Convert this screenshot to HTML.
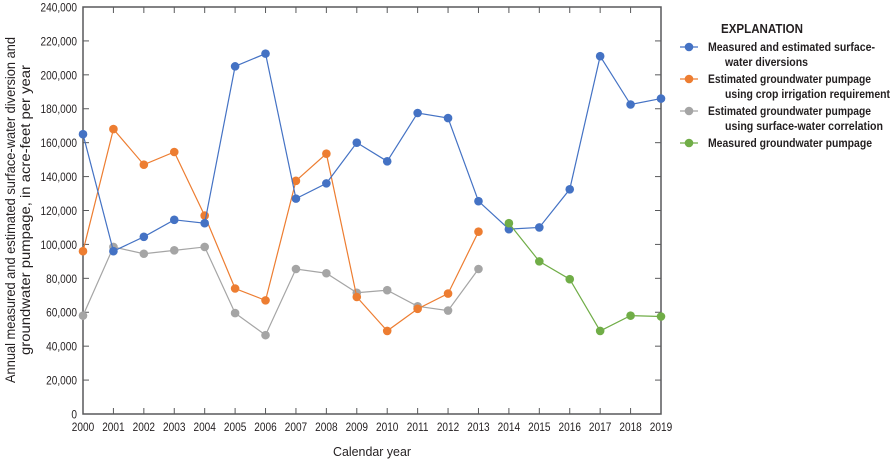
<!DOCTYPE html>
<html><head><meta charset="utf-8"><style>
body{margin:0;background:#fff;width:896px;height:460px;overflow:hidden}
svg text{font-family:"Liberation Sans",sans-serif;fill:#231f20}
</style></head><body>
<svg id="chart" width="896" height="460" xmlns="http://www.w3.org/2000/svg">
<g id="axes"></g><g id="series"></g>
<g font-weight="bold" font-size="11.5">
<text x="762" y="33" text-anchor="middle" font-size="13" textLength="82" lengthAdjust="spacingAndGlyphs">EXPLANATION</text>
<g><line x1="680" y1="47" x2="698" y2="47" stroke="#4472c4" stroke-width="1.2"/><circle cx="689" cy="47" r="4.3" fill="#4472c4"/>
<text x="708" y="51" textLength="167" lengthAdjust="spacingAndGlyphs">Measured and estimated surface-</text><text x="725" y="66" textLength="83" lengthAdjust="spacingAndGlyphs">water diversions</text></g>
<g><line x1="680" y1="79" x2="698" y2="79" stroke="#ed7d31" stroke-width="1.2"/><circle cx="689" cy="79" r="4.3" fill="#ed7d31"/>
<text x="708" y="83" textLength="163" lengthAdjust="spacingAndGlyphs">Estimated groundwater pumpage</text><text x="725" y="98" textLength="165" lengthAdjust="spacingAndGlyphs">using crop irrigation requirement</text></g>
<g><line x1="680" y1="111" x2="698" y2="111" stroke="#a5a5a5" stroke-width="1.2"/><circle cx="689" cy="111" r="4.3" fill="#a5a5a5"/>
<text x="708" y="115" textLength="163" lengthAdjust="spacingAndGlyphs">Estimated groundwater pumpage</text><text x="725" y="130" textLength="158" lengthAdjust="spacingAndGlyphs">using surface-water correlation</text></g>
<g><line x1="680" y1="143" x2="698" y2="143" stroke="#70ad47" stroke-width="1.2"/><circle cx="689" cy="143" r="4.3" fill="#70ad47"/>
<text x="708" y="147" textLength="164" lengthAdjust="spacingAndGlyphs">Measured groundwater pumpage</text></g>
</g>
</svg>
<script>
const years=[2000,2001,2002,2003,2004,2005,2006,2007,2008,2009,2010,2011,2012,2013,2014,2015,2016,2017,2018,2019];
const yTicks=[0,20000,40000,60000,80000,100000,120000,140000,160000,180000,200000,220000,240000];
const surfaceWater=[165000,96000,104500,114500,112500,205000,212500,127000,136000,160000,149000,177500,174500,125500,109000,110000,132500,211000,182500,186000];
const cropIrrigation=[96000,168000,147000,154500,117000,74000,67000,137500,153500,69000,49000,62000,71000,107500];
const swCorrelation=[58000,98500,94500,96500,98500,59500,46500,85500,83000,71500,73000,63500,61000,85500];
const measuredGwYears=[2014,2015,2016,2017,2018,2019];
const measuredGw=[112500,90000,79500,49000,58000,57500];
const NS="http://www.w3.org/2000/svg";
const X0=83,X1=661,Y0=414,Y1=7;
const xs=y=>X0+(y-2000)*(X1-X0)/19;
const ys=v=>Y0-v*(Y0-Y1)/240000;
function mk(t,a,p){const e=document.createElementNS(NS,t);for(const k in a)e.setAttribute(k,a[k]);p.appendChild(e);return e;}
const ax=document.getElementById('axes');
const frame=mk('rect',{x:X0,y:Y1,width:X1-X0,height:Y0-Y1,fill:'none',stroke:'#58595b','stroke-width':1.5},ax);


yTicks.forEach(v=>{
  const y=ys(v);
  const l=mk('line',{x1:X0,x2:X0+6,y1:y,y2:y,stroke:'#58595b','stroke-width':1},ax);
  
  
  const r=mk('line',{x1:X1-6,x2:X1,y1:y,y2:y,stroke:'#58595b','stroke-width':1},ax);
  
  
  const t=mk('text',{x:77,y:y+4.5,'text-anchor':'end','font-size':12,transform:`translate(77 0) scale(0.84 1) translate(-77 0)`},ax);
  t.textContent=v.toLocaleString('en-US');
  
  
});
years.forEach(yr=>{
  const x=xs(yr);
  const l=mk('line',{x1:x,x2:x,y1:Y1,y2:Y1+6,stroke:'#58595b','stroke-width':1},ax);
  
  
  const b=mk('line',{x1:x,x2:x,y1:Y0-6,y2:Y0,stroke:'#58595b','stroke-width':1},ax);
  
  
  const t=mk('text',{x:x,y:431,'text-anchor':'middle','font-size':12,transform:`translate(${x} 0) scale(0.84 1) translate(${-x} 0)`},ax);
  t.textContent=yr;
  
  
});
const xt=mk('text',{x:372,y:456,'text-anchor':'middle','font-size':13,textLength:78,lengthAdjust:'spacingAndGlyphs'},ax);
xt.textContent='Calendar year';


const yt=mk('text',{x:-210,y:15,'text-anchor':'middle','font-size':13.5,transform:'rotate(-90)',textLength:346,lengthAdjust:'spacingAndGlyphs'},ax);
yt.textContent='Annual measured and estimated surface-water diversion and';


const yt2=mk('text',{x:-210,y:30,'text-anchor':'middle','font-size':13.5,transform:'rotate(-90)',textLength:290,lengthAdjust:'spacingAndGlyphs'},ax);
yt2.textContent='groundwater pumpage, in acre-feet per year';


const sg=document.getElementById('series');
function series(name,xv,vals,color){
  const g=mk('g',{},sg);
  
  
  const pts=vals.map((v,i)=>xs(xv[i])+','+ys(v)).join(' ');
  const pl=mk('polyline',{points:pts,fill:'none',stroke:color,'stroke-width':1.2},g);
  
  
  vals.forEach((v,i)=>{
    const c=mk('circle',{cx:xs(xv[i]),cy:ys(v),r:4.3,fill:color},g);
    
    
  });
}
series('gray-sw-correlation',years,swCorrelation,'#a5a5a5');
series('orange-crop-irrigation',years,cropIrrigation,'#ed7d31');
series('blue-surface-water',years,surfaceWater,'#4472c4');
series('green-measured-gw',measuredGwYears,measuredGw,'#70ad47');
</script>
</body></html>
